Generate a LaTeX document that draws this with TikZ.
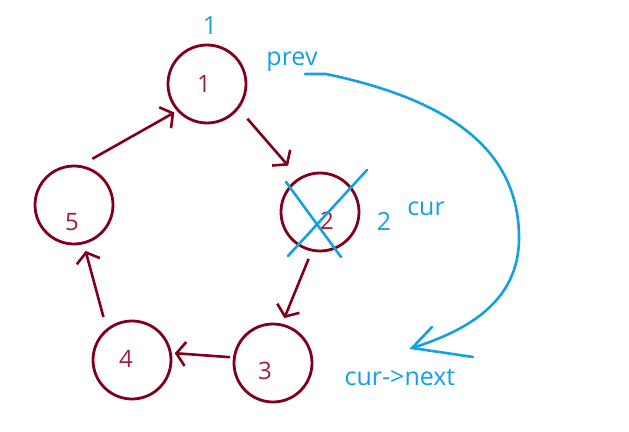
\documentclass[tikz,border=0pt]{standalone}
\usepackage{fontspec}
\setmainfont{Open Sans}
\usepackage{tikz}
\usetikzlibrary{arrows.meta, positioning}

\definecolor{linkred}{RGB}{128,0,28}
\definecolor{numred}{RGB}{160,30,60}
\definecolor{markblue}{RGB}{20,160,225}

\tikzset{
	listnode/.style = {circle, draw = linkred, line width = 2.8pt, minimum size = 78pt, inner sep = 0pt},
	listnum/.style = {text = numred, font = \fontsize{24}{28}\selectfont},
	link/.style = {draw = linkred, line width = 2.6pt, -{Straight Barb[length = 9pt, width = 24pt]}},
	note/.style = {text = markblue, font = \fontsize{25}{28}\selectfont},
	blueline/.style = {draw = markblue, line width = 2.6pt, line cap = round}
}

\begin{document}
\begin{tikzpicture}[x = 1pt, y = -1pt]
		\useasboundingbox (0, 0) rectangle (629, 431);
		\node[listnode] (c1) at (207, 84) {};
		\node[listnode] (c2) at (320, 212) {};
		\node[listnode] (c3) at (273, 363) {};
		\node[listnode] (c4) at (132, 360) {};
		\node[listnode] (c5) at (74, 205) {};
		\node[listnum] (n1) at (204, 84) {1};
		\node[listnum] (n2) at (327, 221) {2};
		\node[listnum] (n3) at (265, 371) {3};
		\node[listnum] (n4) at (126, 359) {4};
		\node[listnum] (n5) at (72, 222) {5};
		\draw[link, shorten <= 13pt, shorten >= 3pt] (c5.80) -- (c1.222);
		\draw[link, shorten <= 13pt, shorten >= 16pt] (c1.-38) -- (c2.122);
		\draw[link, shorten <= 8pt, shorten >= 6pt] (c2.-102) -- (c3.77);
		\draw[link, shorten <= 3pt, shorten >= 3pt] (c3.172) -- (c4.10);
		\draw[link, shorten <= 12pt, shorten >= 7pt] (c4.129) -- (c5.-76);
		\node[note] (v1) at (210, 26) {1};
		\node[note] (prev) at (292, 62) {prev};
		\node[note] (v2) at (384, 221) {2};
		\node[note] (cur) at (426, 209) {cur};
		\node[note] (next) at (400, 377) {cur->next};
		\draw[blueline] (286, 182) -- (341, 257) (367, 170) -- (288, 256);
		\coordinate (from) at (305, 74);
		\coordinate (tip) at (412, 348);
		\draw[blueline] (from) -- (326, 74) .. controls (450, 100) and (520, 150) .. (519, 240)
			.. controls (518, 300) and (470, 330) .. (tip);
		\draw[blueline] (432, 327) -- (tip) -- (473, 357);
		\end{tikzpicture}
\end{document}
